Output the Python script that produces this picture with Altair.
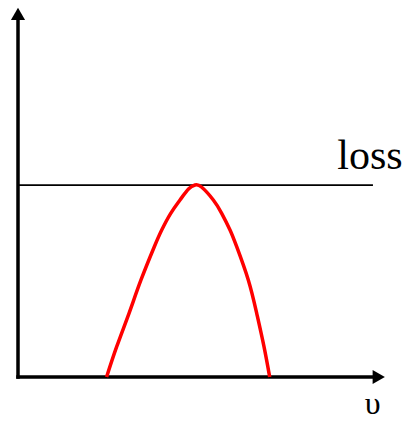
import altair as alt
import pandas as pd

# Red response curve (frequency υ vs. gain), read as sample points
curve_x = [2.414, 2.689, 3.025, 3.351, 3.714, 3.916, 4.161, 4.414, 4.646, 4.823,
           5.000, 5.322, 5.550, 5.777, 5.959, 6.275, 6.504, 6.703, 6.858]
curve_y = [0.000, 0.821, 1.726, 2.629, 3.531, 3.984, 4.436, 4.797, 5.095, 5.203,
           5.149, 4.797, 4.436, 3.984, 3.531, 2.629, 1.726, 0.821, 0.000]

# Horizontal loss level and its extent
loss_level = 5.2
loss_end = 9.65

# Axis extents (arrows end at the domain maximum)
axis_max = 10.0
shaft_end = 9.7

labels = ["loss", "υ"]
label_x = [8.70, 9.45]
label_y = [5.64, -1.0]
label_size = [42, 32]

xs = alt.Scale(domain=[0, 10])
ys = alt.Scale(domain=[0, 10])

curve_df = pd.DataFrame({"x": curve_x, "y": curve_y})
rules_df = pd.DataFrame({
    "x": [0, 0, 0],
    "x2": [shaft_end, 0, loss_end],
    "y": [0, 0, loss_level],
    "y2": [0, shaft_end, loss_level],
    "w": [3.5, 3.5, 1.6],
})
arrows_df = pd.DataFrame({
    "x": [0, axis_max - 0.17],
    "y": [axis_max - 0.16, 0],
    "shape": ["triangle-up", "triangle-right"],
})
text_df = pd.DataFrame({"t": labels, "x": label_x, "y": label_y, "s": label_size})

rules = alt.Chart(rules_df).mark_rule(color="black", strokeCap="square", clip=False).encode(
    x=alt.X("x:Q", scale=xs, axis=None),
    x2="x2:Q",
    y=alt.Y("y:Q", scale=ys, axis=None),
    y2="y2:Q",
    strokeWidth=alt.StrokeWidth("w:Q", scale=None),
)

arrows = alt.Chart(arrows_df).mark_point(filled=True, color="black", opacity=1, size=200, clip=False).encode(
    x=alt.X("x:Q", scale=xs, axis=None),
    y=alt.Y("y:Q", scale=ys, axis=None),
    shape=alt.Shape("shape:N", scale=None),
)

curve = alt.Chart(curve_df).mark_line(color="#ff0000", strokeWidth=3.5, interpolate="natural", clip=False).encode(
    x=alt.X("x:Q", scale=xs, axis=None),
    y=alt.Y("y:Q", scale=ys, axis=None),
)

texts = alt.Chart(text_df).mark_text(
    align="left", baseline="alphabetic", font="Liberation Serif", color="black", clip=False
).encode(
    x=alt.X("x:Q", scale=xs, axis=None),
    y=alt.Y("y:Q", scale=ys, axis=None),
    text="t:N",
    size=alt.Size("s:Q", scale=None),
)

chart = alt.layer(rules, curve, arrows, texts).properties(
    width=367,
    height=369,
    autosize=alt.AutoSizeParams(type="none"),
    padding={"left": 18, "top": 8, "right": 19, "bottom": 44},
).configure_view(stroke=None)

chart.save("out.html", embed_options={"renderer": "svg", "actions": False})
